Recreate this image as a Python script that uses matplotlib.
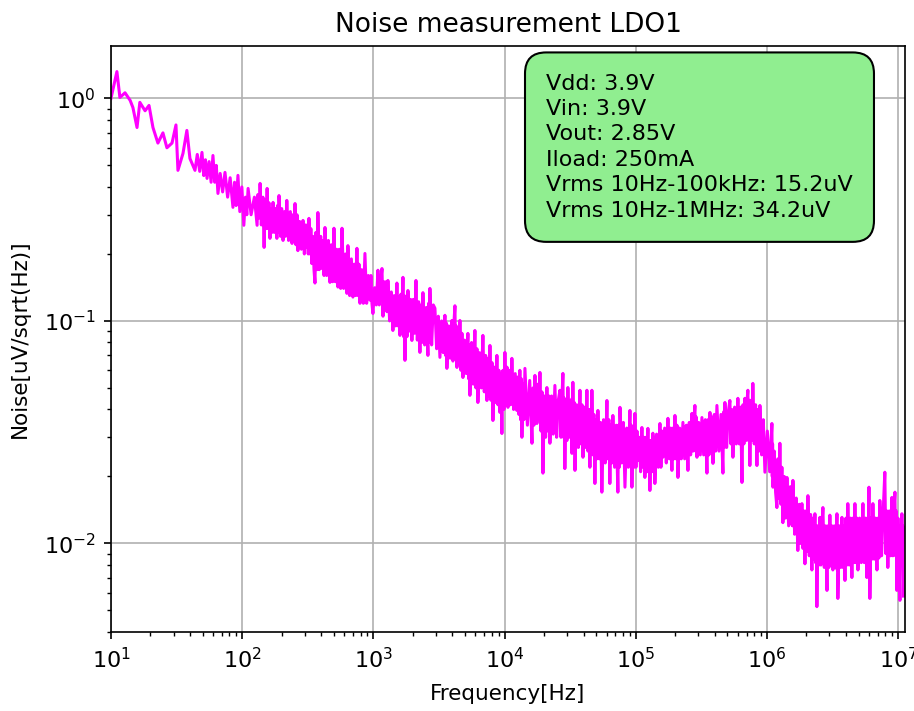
import matplotlib
matplotlib.use('Agg')
import matplotlib.pyplot as plt

# Valeurs (frequence en Hz, bruit en uV/sqrt(Hz))
freq = [10, 11.1, 11.7, 12.8, 14.0, 14.7, 15.8, 16.6, 18.2, 19.5,
        20.9, 22.8, 24.9, 26.7, 29.2, 31.3, 32.4, 35.4, 37.9, 40.0,
        43.7, 49.4, 54.0, 59.9, 65.4, 74.0, 85.1, 92.9, 103, 111,
        130, 137, 147, 155, 163, 172, 184, 191, 205, 219,
        240, 253, 266, 291, 312, 323, 340, 359, 378, 406,
        428, 467, 501, 537, 577, 629, 640, 699, 750, 791,
        863, 942, 993, 1084, 1164, 1226, 1292, 1410, 1513, 1596,
        1682, 1742, 1836, 1968, 2113, 2265, 2388, 2607, 2699, 2948,
        3218, 3513, 3637, 3972, 4188, 4337, 4571, 4819, 5260, 5447,
        5946, 6268, 6842, 7345, 7742, 8161, 8750, 9226, 9550, 10070,
        10620, 11380, 12420, 13090, 13570, 14310, 16190, 17060, 17660, 18620,
        19630, 21040, 22180, 24210, 26460, 27870, 28840, 30410, 32660, 33190,
        34430, 37580, 39630, 42460, 44770, 46350, 48870, 51520, 55210, 60340,
        63530, 66990, 73130, 75860, 82800, 90360, 93550, 98620, 104000, 111500,
        117500, 123900, 128300, 135200, 140000, 153000, 161200, 176100, 188800, 199100,
        209900, 229100, 250100, 268200, 282700, 293000, 319800, 349100, 368000, 388100,
        416000, 462200, 478600, 522400, 550800, 601200, 645700, 679200, 716200, 741600,
        781600, 839500, 884700, 966000, 1.092e6, 1.112e6, 1.192e6, 1.256e6, 1.324e6, 1.422e6,
        1.552e6, 1.579e6, 1.722e6, 1.849e6, 1.950e6, 2.055e6, 2.203e6, 2.323e6, 2.405e6, 2.536e6,
        2.673e6, 2.871e6, 3.020e6, 3.184e6, 3.420e6, 3.475e6, 3.733e6, 3.936e6, 4.140e6, 4.446e6,
        4.688e6, 4.943e6, 5.395e6, 5.781e6, 5.998e6, 6.095e6, 6.427e6, 6.902e6, 7.261e6, 7.925e6,
        8.356e6, 8.974e6, 9.462e6, 9.795e6, 1.033e7, 1.069e7, 1.10e7]

noise = [1.0, 1.32, 1.01, 1.06, 0.98, 0.91, 0.74, 0.96, 0.88, 0.93,
         0.74, 0.63, 0.70, 0.60, 0.63, 0.76, 0.475, 0.566, 0.718, 0.537,
         0.475, 0.572, 0.437, 0.554, 0.374, 0.465, 0.324, 0.451, 0.269, 0.394,
         0.269, 0.415, 0.214, 0.394, 0.235, 0.341, 0.235, 0.366, 0.230, 0.348,
         0.223, 0.337, 0.207, 0.283, 0.214, 0.289, 0.181, 0.148, 0.307, 0.172,
         0.263, 0.149, 0.261, 0.142, 0.261, 0.133, 0.218, 0.128, 0.212, 0.120,
         0.201, 0.124, 0.108, 0.169, 0.172, 0.124, 0.152, 0.0906, 0.148, 0.0861,
         0.157, 0.0665, 0.137, 0.0817, 0.152, 0.0722, 0.134, 0.070, 0.140, 0.114,
         0.0686, 0.106, 0.0612, 0.1005, 0.117, 0.0618, 0.1005, 0.0557, 0.0879, 0.0463,
         0.0906, 0.0430, 0.0861, 0.0439, 0.0776, 0.0357, 0.070, 0.0388, 0.0312, 0.0722,
         0.0409, 0.0679, 0.0396, 0.060, 0.030, 0.0612, 0.0282, 0.0569, 0.0346, 0.0587,
         0.0207, 0.0502, 0.0282, 0.0513, 0.0488, 0.0581, 0.0217, 0.0502, 0.0254, 0.053,
         0.0213, 0.0488, 0.0244, 0.0488, 0.022, 0.0488, 0.0186, 0.0396, 0.0170, 0.0439,
         0.0186, 0.0376, 0.0170, 0.0409, 0.0179, 0.0396, 0.0179, 0.0384, 0.0236, 0.0332,
         0.0198, 0.0329, 0.0173, 0.0313, 0.0186, 0.0346, 0.0244, 0.0365, 0.0213, 0.0376,
         0.0198, 0.035, 0.0213, 0.0384, 0.0417, 0.0244, 0.0368, 0.0207, 0.0388, 0.0229,
         0.0417, 0.0207, 0.043, 0.0439, 0.0244, 0.0449, 0.0188, 0.0449, 0.0488, 0.0224,
         0.0524, 0.0224, 0.0417, 0.0209, 0.0346, 0.0179, 0.0145, 0.0282, 0.0124, 0.0198,
         0.0121, 0.0192, 0.0093, 0.0151, 0.0081, 0.0164, 0.0076, 0.0136, 0.0052, 0.0131,
         0.0145, 0.00615, 0.0134, 0.0076, 0.0136, 0.00566, 0.0131, 0.00682, 0.0151, 0.00703,
         0.0151, 0.0076, 0.0151, 0.00703, 0.0179, 0.00566, 0.0151, 0.0076, 0.0156, 0.0209,
         0.0078, 0.0161, 0.0170, 0.00615, 0.00555, 0.0136, 0.0058]

# Points intermediaires lus dans la bande de bruit
freq_mid = [45.5, 47.5, 51, 52.5, 56, 58, 61.8, 63.5, 68, 71,
            77.5, 81, 87.5, 90, 96, 99.5,
            106, 108.5, 117, 124, 132, 135, 140, 144, 150, 152,
            158, 160, 166, 169, 176, 180, 186, 189, 196, 200,
            210, 214, 226, 233, 244, 249, 257, 262, 274, 283,
            298, 305, 316, 319, 329, 334, 346, 353, 365, 372,
            387, 397, 413, 421, 441, 454, 478, 490, 513, 525,
            550, 564, 594, 612, 633, 637, 660, 680, 716, 733,
            764, 777, 815, 839, 889, 916, 959, 976,
            1023, 1054, 1111, 1137, 1185, 1205, 1248, 1270, 1331, 1371,
            1444, 1479, 1541, 1568, 1625, 1653, 1702, 1722, 1773, 1805,
            1880, 1924, 2016, 2065, 2164, 2214, 2306, 2347, 2461, 2534,
            2638, 2668, 2782, 2865, 3038, 3128, 3316, 3415, 3554, 3596,
            3749, 3860, 4044, 4116, 4238, 4287, 4415, 4493, 4654, 4737,
            4966, 5113, 5322, 5385, 5613, 5780, 6053, 6161, 6459, 6651,
            7010, 7178, 7477, 7610, 7882, 8021, 8357, 8554, 8909, 9067,
            9334, 9442, 9723, 9897, 10250, 10440, 10870, 11130, 11730, 12070,
            12640, 12870, 13250, 13410, 13820, 14060, 14940, 15560, 16480, 16770,
            17260, 17460, 17980, 18300, 18960, 19290, 20100, 20570, 21420, 21800,
            22860, 23530, 24960, 25710, 26930, 27400, 28190, 28520, 29360, 29890,
            31160, 31910, 32840, 33010, 33600, 34020, 35480, 36530, 38260, 38950,
            40570, 41520, 43230, 44000, 45300, 45820, 47190, 48030, 49750, 50640,
            52750, 53980, 56920, 58630, 61400, 62470, 64680, 65840, 69040, 71090,
            74040, 74950, 78170, 80490, 85320, 87840, 91420, 92490, 95240, 96930,
            100400, 102200, 106500, 109000, 113500, 115500, 119600, 121800, 125400, 126800,
            130600, 132900, 136800, 138400, 144300, 148700, 155700, 158500, 166200, 171100,
            180300, 184600, 192200, 195700, 202700, 206300, 216300, 222700, 236100, 243100,
            256100, 262200, 273000, 277900, 286100, 289600, 301900, 310800, 329600, 339300,
            355400, 361700, 374700, 381400, 397400, 406700, 431400, 446800, 467700, 473100,
            493200, 507800, 531900, 541300, 567600, 584400, 616000, 630900, 656900, 668000,
            691500, 703900, 724700, 733100, 754900, 768300, 800900, 820200, 854600, 869600,
            911800, 938900, 1.008e6, 1.050e6, 1.099e6, 1.105e6, 1.139e6, 1.165e6, 1.213e6, 1.235e6,
            1.279e6, 1.301e6, 1.357e6, 1.389e6, 1.465e6, 1.509e6, 1.561e6, 1.570e6, 1.627e6, 1.674e6,
            1.764e6, 1.807e6, 1.883e6, 1.916e6, 1.985e6, 2.020e6, 2.104e6, 2.154e6, 2.243e6, 2.283e6,
            2.350e6, 2.378e6, 2.449e6, 2.492e6, 2.582e6, 2.627e6, 2.739e6, 2.805e6, 2.921e6, 2.970e6,
            3.075e6, 3.129e6, 3.263e6, 3.341e6, 3.438e6, 3.457e6, 3.561e6, 3.647e6, 3.801e6, 3.868e6,
            4.004e6, 4.072e6, 4.242e6, 4.344e6, 4.527e6, 4.607e6, 4.773e6, 4.858e6, 5.094e6, 5.244e6,
            5.524e6, 5.652e6, 5.853e6, 5.926e6, 6.030e6, 6.063e6, 6.206e6, 6.316e6, 6.585e6, 6.744e6,
            7.022e6, 7.141e6, 7.482e6, 7.704e6, 8.069e6, 8.212e6, 8.562e6, 8.768e6, 9.137e6, 9.299e6,
            9.573e6, 9.684e6, 9.973e6, 1.015e7, 1.045e7, 1.057e7, 1.079e7, 1.090e7]

noise_mid = [0.56, 0.47, 0.45, 0.53, 0.52, 0.42, 0.42, 0.50, 0.46, 0.38,
             0.36, 0.44, 0.42, 0.33, 0.31, 0.40,
             0.36, 0.30, 0.30, 0.36, 0.37, 0.29, 0.27, 0.36, 0.35, 0.26,
             0.26, 0.34, 0.32, 0.25, 0.25, 0.32, 0.33, 0.25, 0.24, 0.32,
             0.31, 0.24, 0.23, 0.31, 0.30, 0.23, 0.22, 0.30, 0.28, 0.21,
             0.20, 0.27, 0.27, 0.20, 0.20, 0.26, 0.24, 0.17, 0.25, 0.17,
             0.17, 0.24, 0.23, 0.16, 0.16, 0.23, 0.22, 0.15, 0.15, 0.21,
             0.21, 0.14, 0.14, 0.20, 0.19, 0.14, 0.13, 0.19, 0.18, 0.13,
             0.13, 0.18, 0.17, 0.12, 0.12, 0.16, 0.16, 0.12,
             0.141, 0.118, 0.118, 0.150, 0.105, 0.150, 0.150, 0.110, 0.100, 0.135,
             0.130, 0.095, 0.095, 0.128, 0.132, 0.092, 0.085, 0.130, 0.120, 0.085,
             0.090, 0.125, 0.125, 0.088, 0.082, 0.122, 0.118, 0.080, 0.078, 0.115,
             0.120, 0.080, 0.078, 0.118, 0.075, 0.105, 0.100, 0.072, 0.070, 0.098,
             0.095, 0.068, 0.066, 0.098, 0.068, 0.095, 0.090, 0.064, 0.060, 0.088,
             0.082, 0.058, 0.055, 0.078, 0.080, 0.052, 0.050, 0.075, 0.072, 0.050,
             0.048, 0.070, 0.068, 0.046, 0.044, 0.065, 0.062, 0.043, 0.042, 0.060,
             0.058, 0.045, 0.060, 0.040, 0.042, 0.062, 0.060, 0.042, 0.040, 0.058,
             0.056, 0.038, 0.036, 0.055, 0.052, 0.036, 0.034, 0.054, 0.050, 0.034,
             0.036, 0.050, 0.052, 0.036, 0.032, 0.048, 0.046, 0.030, 0.032, 0.046,
             0.046, 0.031, 0.030, 0.044, 0.030, 0.045, 0.030, 0.045, 0.044, 0.029,
             0.030, 0.044, 0.045, 0.030, 0.028, 0.043, 0.042, 0.027, 0.028, 0.042,
             0.041, 0.027, 0.026, 0.040, 0.040, 0.026, 0.025, 0.038, 0.036, 0.024,
             0.024, 0.035, 0.036, 0.023, 0.024, 0.036, 0.034, 0.023, 0.022, 0.034,
             0.034, 0.022, 0.023, 0.035, 0.033, 0.022, 0.023, 0.034, 0.032, 0.022,
             0.022, 0.032, 0.030, 0.021, 0.022, 0.030, 0.030, 0.021, 0.021, 0.029,
             0.029, 0.021, 0.022, 0.030, 0.031, 0.022, 0.022, 0.032, 0.033, 0.023,
             0.024, 0.033, 0.033, 0.024, 0.024, 0.034, 0.033, 0.024, 0.024, 0.034,
             0.035, 0.025, 0.026, 0.036, 0.026, 0.037, 0.035, 0.025, 0.025, 0.036,
             0.036, 0.025, 0.026, 0.037, 0.038, 0.026, 0.026, 0.038, 0.039, 0.027,
             0.027, 0.039, 0.028, 0.040, 0.041, 0.028, 0.028, 0.041, 0.042, 0.028,
             0.029, 0.043, 0.029, 0.044, 0.044, 0.029, 0.028, 0.042, 0.040, 0.026,
             0.025, 0.036, 0.032, 0.021, 0.020, 0.028, 0.026, 0.017, 0.024, 0.016,
             0.015, 0.022, 0.020, 0.013, 0.012, 0.018, 0.018, 0.012, 0.011, 0.016,
             0.015, 0.010, 0.0095, 0.014, 0.014, 0.0092, 0.0088, 0.0135, 0.013, 0.0085,
             0.0082, 0.012, 0.012, 0.0080, 0.0080, 0.012, 0.0078, 0.012, 0.012, 0.0078,
             0.0080, 0.012, 0.012, 0.0078, 0.0076, 0.012, 0.012, 0.0078, 0.0078, 0.012,
             0.013, 0.0080, 0.0080, 0.013, 0.013, 0.0082, 0.0082, 0.013, 0.013, 0.0082,
             0.0082, 0.013, 0.013, 0.0085, 0.0085, 0.013, 0.013, 0.0085, 0.0085, 0.013,
             0.013, 0.0086, 0.0088, 0.014, 0.0090, 0.014, 0.014, 0.0088, 0.0088, 0.014,
             0.0088, 0.014, 0.013, 0.0085, 0.012, 0.0080, 0.0085, 0.012]

infos = ['Vdd: 3.9V', 'Vin: 3.9V', 'Vout: 2.85V', 'Iload: 250mA',
         'Vrms 10Hz-100kHz: 15.2uV', 'Vrms 10Hz-1MHz: 34.2uV']

# Je fusionne les deux series et je trie par frequence
points = sorted(zip(freq + freq_mid, noise + noise_mid))
f_all = [p[0] for p in points]
n_all = [p[1] for p in points]

fig = plt.figure(figsize=(9.14, 7.11), dpi=100)
ax = fig.add_axes([0.1214, 0.1111, 0.8688, 0.8242])

ax.loglog(f_all, n_all, color='magenta', linewidth=2.2)
ax.set_xlim(10, 1.13e7)
ax.set_ylim(0.004, 1.72)
ax.grid(True, which='major', color='#b0b0b0', linewidth=1.2)

ax.set_title('Noise measurement LDO1', fontsize=19, pad=10)
ax.set_xlabel('Frequency[Hz]', fontsize=15.5, labelpad=8)
ax.set_ylabel('Noise[uV/sqrt(Hz)]', fontsize=15.5, labelpad=10)
ax.tick_params(which='major', labelsize=16, length=5, width=1.2, pad=6)
ax.tick_params(which='minor', length=3, width=1.0)
for s in ax.spines.values():
    s.set_linewidth(1.2)

ax.text(0.548, 0.953, '\n'.join(infos), transform=ax.transAxes, fontsize=16,
        va='top', ha='left', linespacing=1.34,
        bbox=dict(boxstyle='round,pad=0.95', facecolor='lightgreen', edgecolor='black', linewidth=1.5))

fig.savefig('out.png', dpi=100)
